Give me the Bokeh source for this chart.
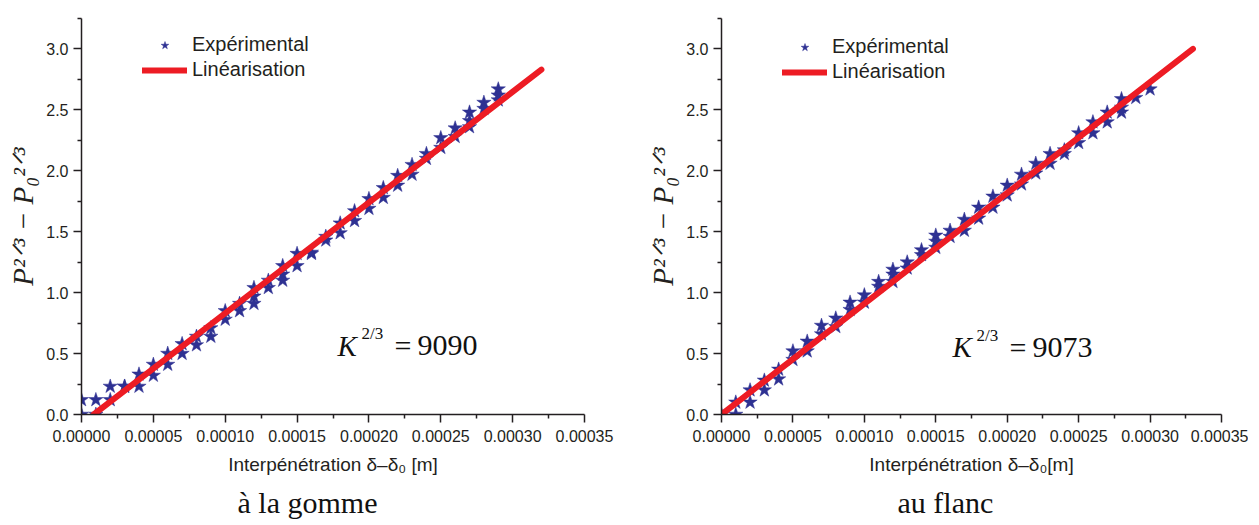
from bokeh.plotting import figure
from bokeh.layouts import row
from bokeh.models import Range1d, Label, Legend, LegendItem, FixedTicker, PrintfTickFormatter, Title
from bokeh.embed import file_html
from bokeh.resources import INLINE

# ---------------- data ----------------
x_ticks = [0.0, 0.00005, 0.00010, 0.00015, 0.00020, 0.00025, 0.00030, 0.00035]
x_minor = [0.000025, 0.000075, 0.000125, 0.000175, 0.000225, 0.000275, 0.000325]
y_ticks = [0.0, 0.5, 1.0, 1.5, 2.0, 2.5, 3.0]
y_minor = [0.25, 0.75, 1.25, 1.75, 2.25, 2.75, 3.25]

gomme_x = [0.0, 0.0, 0.00001, 0.00001, 0.00002, 0.00002, 0.00003, 0.00003,
           0.00004, 0.00004, 0.00005, 0.00005, 0.00006, 0.00006, 0.00007, 0.00007,
           0.00008, 0.00008, 0.00009, 0.00009, 0.00010, 0.00010, 0.00011, 0.00011,
           0.00012, 0.00012, 0.00012, 0.00013, 0.00013, 0.00014, 0.00014, 0.00014,
           0.00015, 0.00015, 0.00016, 0.00016, 0.00017, 0.00017, 0.00018, 0.00018,
           0.00019, 0.00019, 0.00020, 0.00020, 0.00021, 0.00021, 0.00022, 0.00022,
           0.00023, 0.00023, 0.00024, 0.00024, 0.00025, 0.00025, 0.00026, 0.00026,
           0.00027, 0.00027, 0.00027, 0.00028, 0.00028, 0.00029, 0.00029, 0.00029]
gomme_y = [0.12, 0.00, 0.12, 0.00, 0.23, 0.12, 0.23, 0.23,
           0.33, 0.23, 0.41, 0.32, 0.50, 0.41, 0.58, 0.50,
           0.64, 0.57, 0.71, 0.64, 0.85, 0.78, 0.91, 0.85,
           1.04, 0.97, 0.91, 1.10, 1.04, 1.22, 1.15, 1.10,
           1.32, 1.22, 1.33, 1.32, 1.46, 1.43, 1.57, 1.49,
           1.67, 1.59, 1.77, 1.69, 1.86, 1.78, 1.96, 1.88,
           2.05, 1.97, 2.14, 2.10, 2.27, 2.19, 2.35, 2.28,
           2.48, 2.41, 2.36, 2.56, 2.51, 2.67, 2.62, 2.58]
gomme_fit_x = [0.0000085, 0.00032]
gomme_fit_y = [0.0, 2.83]

flanc_x = [0.0, 0.00001, 0.00001, 0.00002, 0.00002, 0.00003, 0.00003,
           0.00004, 0.00004, 0.00005, 0.00005, 0.00006, 0.00006, 0.00007, 0.00007,
           0.00008, 0.00008, 0.00009, 0.00009, 0.00010, 0.00010, 0.00011, 0.00011,
           0.00012, 0.00012, 0.00012, 0.00013, 0.00013, 0.00014, 0.00014,
           0.00015, 0.00015, 0.00015, 0.00016, 0.00016, 0.00017, 0.00017,
           0.00018, 0.00018, 0.00019, 0.00019, 0.00020, 0.00020, 0.00021, 0.00021,
           0.00022, 0.00022, 0.00023, 0.00023, 0.00024, 0.00024, 0.00025, 0.00025,
           0.00026, 0.00026, 0.00027, 0.00027, 0.00028, 0.00028, 0.00028,
           0.00029, 0.00030]
flanc_y = [0.00, 0.10, 0.00, 0.20, 0.10, 0.28, 0.20,
           0.37, 0.29, 0.52, 0.45, 0.60, 0.52, 0.73, 0.66,
           0.79, 0.72, 0.92, 0.86, 0.98, 0.92, 1.09, 1.05,
           1.19, 1.15, 1.09, 1.25, 1.20, 1.35, 1.31,
           1.47, 1.42, 1.37, 1.51, 1.46, 1.60, 1.51,
           1.70, 1.61, 1.79, 1.70, 1.88, 1.80, 1.97, 1.89,
           2.06, 1.98, 2.14, 2.06, 2.17, 2.14, 2.31, 2.23,
           2.40, 2.31, 2.48, 2.40, 2.59, 2.52, 2.48,
           2.60, 2.67]
flanc_fit_x = [0.0, 0.00033]
flanc_fit_y = [0.0, 3.0]

legend_labels = ["Expérimental", "Linéarisation"]
captions = ["à la gomme", "au flanc"]
k_values = ["9090", "9073"]
x_labels = ["Interpénétration δ–δ₀ [m]", "Interpénétration δ–δ₀[m]"]
y_label = "P²ᐟ³ − P₀²ᐟ³"

# ---------------- style ----------------
X_MAX = 0.00035
Y_MAX = 3.25
AXIS_COL = "#231F20"
STAR_COL = "#2E3192"
LINE_COL = "#ED1C24"
SANS = "Liberation Sans"
SERIF = "Liberation Serif"
FIG_H = 525


def make_panel(px0, width, fx0, fx1, fy0, fy1, xs, ys, fx, fy, xlabel, kval, caption,
               kpos, cap_off, leg_top):
    p = figure(width=width, height=FIG_H, output_backend="svg", toolbar_location=None,
               title_location=None,
               x_range=Range1d(0, X_MAX), y_range=Range1d(0, Y_MAX))
    p.min_border_left = fx0 - px0
    p.min_border_right = width - (fx1 - px0)
    p.min_border_top = fy0
    p.min_border_bottom = FIG_H - fy1
    p.outline_line_color = None
    p.xgrid.visible = False
    p.ygrid.visible = False

    p.xaxis.ticker = FixedTicker(ticks=x_ticks, minor_ticks=x_minor)
    p.yaxis.ticker = FixedTicker(ticks=y_ticks, minor_ticks=y_minor)
    p.xaxis.formatter = PrintfTickFormatter(format="%.5f")
    p.yaxis.formatter = PrintfTickFormatter(format="%.1f")
    for ax in (p.xaxis[0], p.yaxis[0]):
        ax.axis_line_color = AXIS_COL
        ax.axis_line_width = 1.5
        ax.major_tick_line_color = AXIS_COL
        ax.major_tick_line_width = 1.5
        ax.minor_tick_line_color = AXIS_COL
        ax.minor_tick_line_width = 1.5
        ax.major_tick_out = 8
        ax.major_tick_in = 0
        ax.minor_tick_out = 4
        ax.minor_tick_in = 0
        ax.major_label_text_font = SANS
        ax.major_label_text_font_size = "16px"
        ax.major_label_text_color = AXIS_COL
    p.xaxis.major_label_standoff = 7
    p.yaxis.major_label_standoff = 5
    p.xaxis.axis_label = xlabel
    p.xaxis.axis_label_text_font = SANS
    p.xaxis.axis_label_text_font_size = "19px"
    p.xaxis.axis_label_text_font_style = "normal"
    p.xaxis.axis_label_text_color = AXIS_COL
    p.xaxis.axis_label_standoff = 9

    p.yaxis.axis_label = y_label
    p.yaxis.axis_label_text_font = SERIF
    p.yaxis.axis_label_text_font_size = "29px"
    p.yaxis.axis_label_text_font_style = "italic"
    p.yaxis.axis_label_text_color = AXIS_COL
    p.yaxis.axis_label_standoff = 4

    sc = p.scatter(xs, ys, marker="star", size=15, fill_color=STAR_COL,
                   line_color=STAR_COL, line_width=0.5)
    ln = p.line(fx, fy, line_color=LINE_COL, line_width=6, line_cap="round")

    def dx(px):
        return (px - fx0) / (fx1 - fx0) * X_MAX

    def dy(py):
        return (fy1 - py) / (fy1 - fy0) * Y_MAX

    fh = fy1 - fy0
    leg = Legend(items=[LegendItem(label=legend_labels[0], renderers=[sc]),
                        LegendItem(label=legend_labels[1], renderers=[ln])],
                 location=(61, fh - leg_top - 46), padding=0, margin=0, spacing=2,
                 glyph_width=45, glyph_height=20, label_height=20, label_standoff=5,
                 label_text_font=SANS, label_text_font_size="20px",
                 label_text_color=AXIS_COL, border_line_color=None,
                 background_fill_alpha=0)
    p.add_layout(leg)

    kx, ky = kpos
    kpieces = [
        ("K", kx, ky, 29, "italic"),
        ("2/3", kx + 24, ky - 12, 17, "normal"),
        ("=", kx + 57, ky, 30, "normal"),
        (kval, kx + 80, ky, 30, "normal"),
    ]
    for t, x, y, fs, st in kpieces:
        p.add_layout(Label(x=dx(x), y=dy(y), text=t,
                           text_font=SERIF, text_font_size=f"{fs}px",
                           text_font_style=st, text_color="#111111",
                           text_align="left", text_baseline="alphabetic"))

    p.add_layout(Title(text=caption, align="left", offset=cap_off, standoff=13,
                       text_font=SERIF, text_font_size="30px",
                       text_font_style="normal", text_color="#111111"), "below")
    return p


p1 = make_panel(0, 628, 81, 584, 11, 414, gomme_x, gomme_y, gomme_fit_x, gomme_fit_y,
                x_labels[0], k_values[0], captions[0], (337, 344), 156, 24)
p2 = make_panel(628, 620, 721, 1221, 18, 418, flanc_x, flanc_y, flanc_fit_x, flanc_fit_y,
                x_labels[1], k_values[1], captions[1], (952, 350), 176, 23)

layout = row(p1, p2, spacing=0)
open("out.html", "w").write(file_html(layout, INLINE))
